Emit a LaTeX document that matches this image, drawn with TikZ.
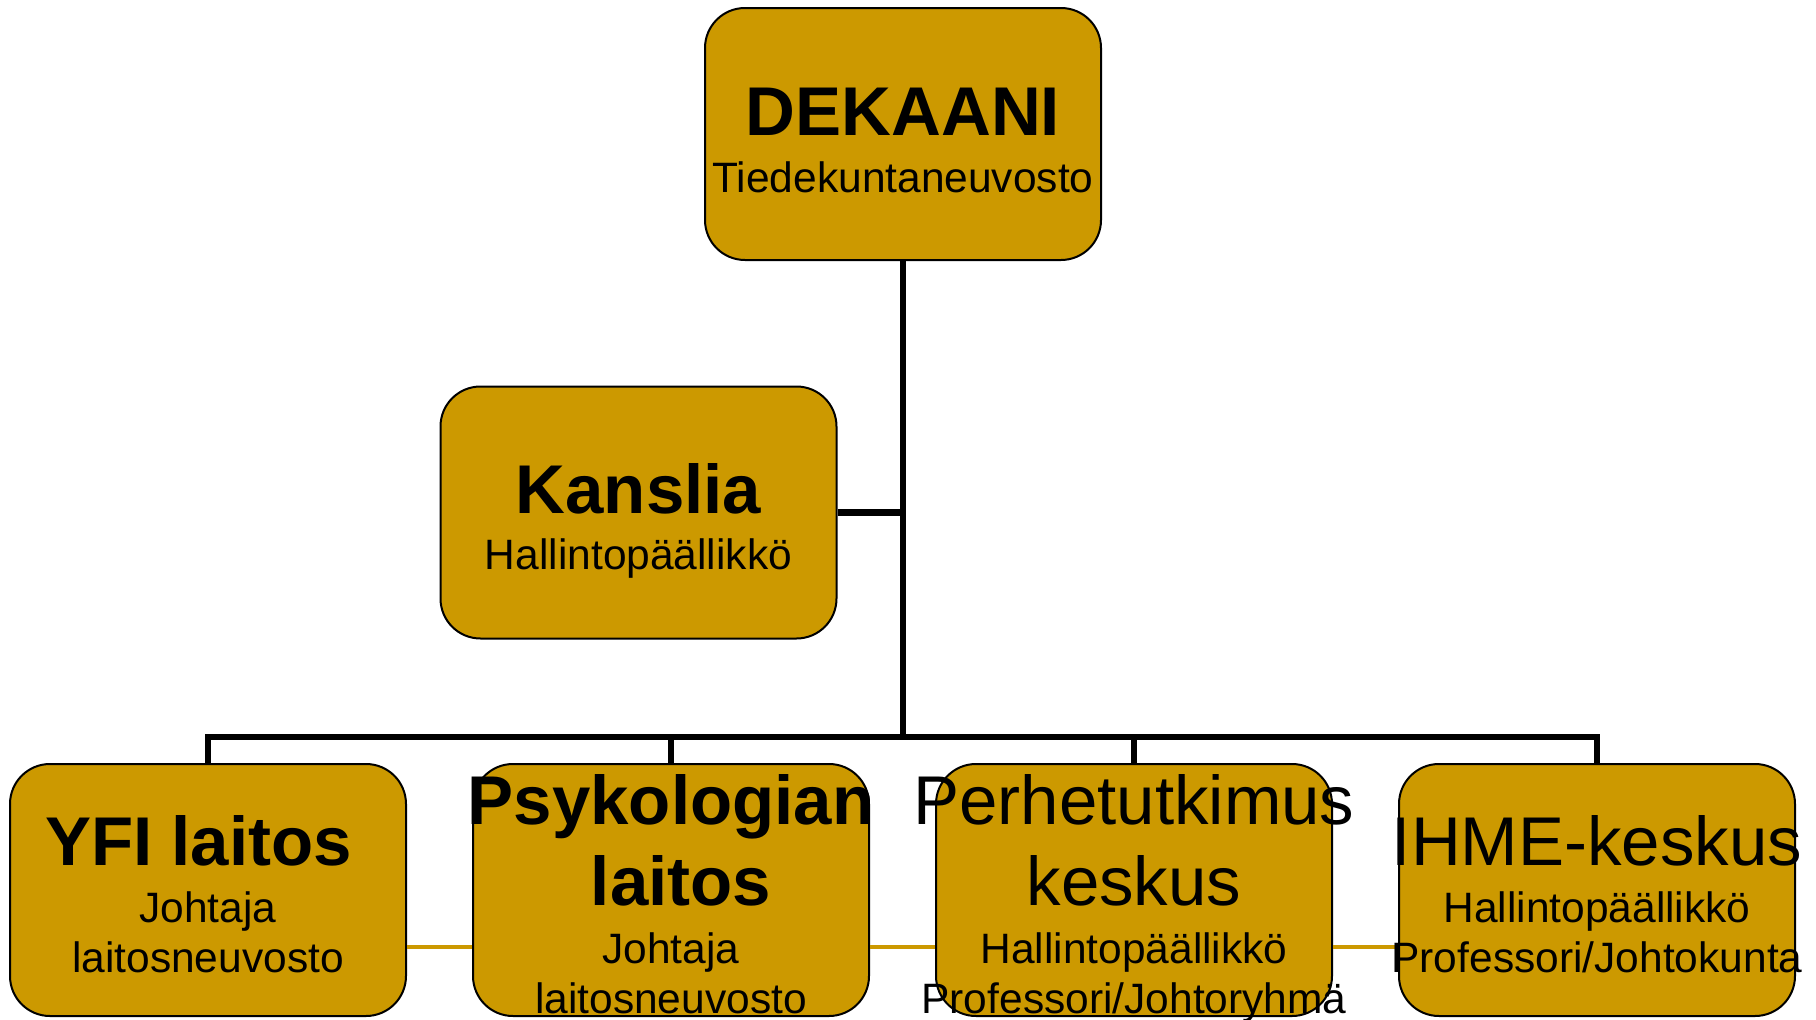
\documentclass[tikz,border=0pt]{standalone}
\usepackage{fontspec}
\setmainfont{Liberation Sans}
\definecolor{boxgold}{HTML}{CC9900}
\begin{document}
\begin{tikzpicture}[x=1pt,y=-1pt,
  orgbox/.style={draw=black,line width=2pt,fill=boxgold,rounded corners=40pt,
    minimum width=396pt,minimum height=252pt,inner sep=0pt},
  conn/.style={draw=black,line width=6.5pt},
  goldline/.style={draw=boxgold,line width=4pt},
  ttb/.style={anchor=base,inner sep=0pt,font=\fontsize{69}{81}\selectfont\bfseries},
  ttr/.style={anchor=base,inner sep=0pt,font=\fontsize{69}{81}\selectfont},
  sub/.style={anchor=base,inner sep=0pt,font=\fontsize{42.5}{50}\selectfont}]
\useasboundingbox (0,0) rectangle (1816,1020);
\fill[white] (0,0) rectangle (1816,1020);
% boxes
\node[orgbox] (dek) at (903,134) {};
\node[orgbox] (kan) at (638.5,512.5) {};
\node[orgbox] (yfi) at (208,890) {};
\node[orgbox] (psy) at (671,890) {};
\node[orgbox] (per) at (1134,890) {};
\node[orgbox] (ihme) at (1597,890) {};
% connectors
\coordinate (bus) at (903,737);
\draw[conn] (dek.south) -- (bus);
\draw[conn] (kan.east) -- (kan.east -| bus);
\draw[conn] (yfi.north) -- (yfi.north |- bus) -- (ihme.north |- bus) -- (ihme.north);
\draw[conn] (psy.north) -- (psy.north |- bus);
\draw[conn] (per.north) -- (per.north |- bus);
\draw[goldline] ([yshift=-57pt]yfi.east) -- ([yshift=-57pt]psy.west);
\draw[goldline] ([yshift=-57pt]psy.east) -- ([yshift=-57pt]per.west);
\draw[goldline] ([yshift=-57pt]per.east) -- ([yshift=-57pt]ihme.west);
% texts
\node[ttb] (dekT) at (903,135) {DEKAANI};
\node[sub] (dekS) at (903,192) {Tiedekuntaneuvosto};
\node[ttb] (kanT) at (638.5,513) {Kanslia};
\node[sub] (kanS) at (638.5,569) {Hallintopäällikkö};
\node[ttb] (yfiT) at (198.5,865.5) {YFI laitos};
\node[sub] (yfiS1) at (208,922.5) {Johtaja};
\node[sub] (yfiS2) at (208,972.5) {laitosneuvosto};
\node[ttb] (psyT1) at (671,824) {Psykologian};
\node[ttb] (psyT2) at (681,905) {laitos};
\node[sub] (psyS1) at (671,963) {Johtaja};
\node[sub] (psyS2) at (671,1013) {laitosneuvosto};
\node[ttr] (perT1) at (1134,824) {Perhetutkimus};
\node[ttr] (perT2) at (1134,905) {keskus};
\node[sub] (perS1) at (1134,963) {Hallintopäällikkö};
\node[sub] (perS2) at (1134,1013) {Professori/Johtoryhmä};
\node[ttr] (ihmeT) at (1597,865.5) {IHME-keskus};
\node[sub] (ihmeS1) at (1597,922.5) {Hallintopäällikkö};
\node[sub] (ihmeS2) at (1597,972.5) {Professori/Johtokunta};
\end{tikzpicture}
\end{document}
